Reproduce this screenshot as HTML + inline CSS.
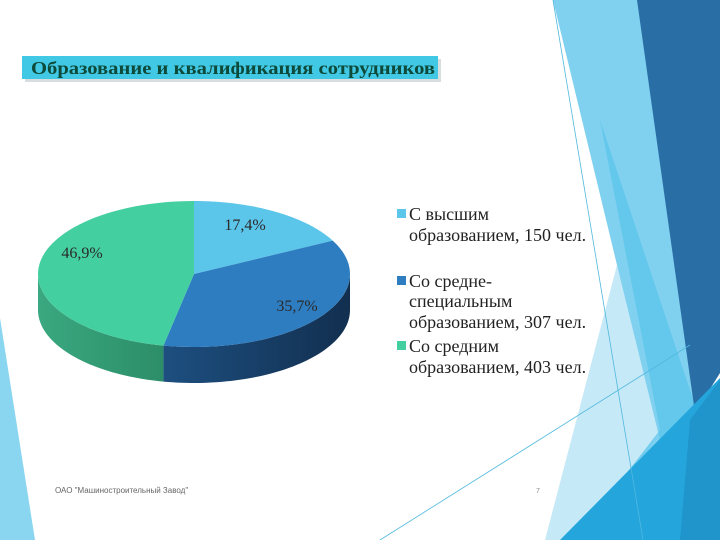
<!DOCTYPE html>
<html><head><meta charset="utf-8"><style>
html,body{margin:0;padding:0;background:#fff;}
svg{display:block;}
.lbl{font-family:"Liberation Serif",serif;font-size:16px;fill:#2a2a2a;}
.leg{font-family:"Liberation Serif",serif;font-size:18px;fill:#222;}
</style></head><body>
<svg width="720" height="540" viewBox="0 0 720 540">
<defs>
<linearGradient id="gSide" x1="0" x2="1"><stop offset="0" stop-color="#3aa880"/><stop offset="1" stop-color="#2c8e68"/></linearGradient>
<linearGradient id="bSide" x1="0" x2="1"><stop offset="0" stop-color="#1d4f80"/><stop offset="1" stop-color="#122f4f"/></linearGradient>
<linearGradient id="lSide" x1="0" x2="1"><stop offset="0" stop-color="#45a9cf"/><stop offset="1" stop-color="#2f87ad"/></linearGradient>
</defs>
<g>
<polygon points="0,318 35,540 0,540" fill="#8ad6f0"/>
<polygon points="617,265 665,420 600,540 545,540" fill="#c6e9f7"/>
<polygon points="553,0 640,0 700,420 660,440 617,265" fill="#80d0f0"/>
<polygon points="600,120 700,420 620,540 575,540 660,430" fill="#5cc6ec" opacity="0.8"/>
<polygon points="637,0 720,0 720,373 695,413" fill="#2a6ea6"/>
<polygon points="560,540 720,378 720,540" fill="#24a6dd"/>
<polygon points="690,420 720,380 720,540 680,540" fill="#1f95cc"/>
<line x1="553" y1="0" x2="643" y2="540" stroke="#4fb8de" stroke-width="0.8"/>
<line x1="380" y1="540" x2="690" y2="345" stroke="#4fb8de" stroke-width="0.8"/>
</g>
<g>
<rect x="25" y="59" width="416" height="23" fill="#d8dde0"/>
<rect x="22" y="56" width="416" height="23" fill="#40c8e4"/>
<text x="31" y="74" font-family="Liberation Serif,serif" font-size="17.5" font-weight="bold" fill="#0d4a3a" textLength="404" lengthAdjust="spacingAndGlyphs">Образование и квалификация сотрудников</text>
</g>
<g id="pie"></g>
<g>
<rect x="397" y="209" width="9" height="9" fill="#5bc5ea"/>
<text class="leg" x="409" y="220">С высшим</text>
<text class="leg" x="409" y="241">образованием, 150 чел.</text>
<rect x="397" y="276" width="9" height="9" fill="#2e7dc0"/>
<text class="leg" x="409" y="287">Со средне-</text>
<text class="leg" x="409" y="307">специальным</text>
<text class="leg" x="409" y="328">образованием, 307 чел.</text>
<rect x="397" y="341" width="9" height="9" fill="#44cfa0"/>
<text class="leg" x="409" y="352">Со средним</text>
<text class="leg" x="409" y="373">образованием, 403 чел.</text>
</g>
<text x="55" y="493" font-family="Liberation Sans,sans-serif" font-size="8" fill="#666">ОАО "Машиностроительный Завод"</text>
<text x="536" y="493" font-family="Liberation Sans,sans-serif" font-size="7" fill="#888">7</text>
</svg>
<script>
const categories = ["С высшим", "Со средне-специальным", "Со средним"];
const counts = [150, 307, 403];
const pctLabels = ["17,4%", "35,7%", "46,9%"];
const topColors = ["#5bc5ea", "#2e7dc0", "#44cfa0"];
const sideFills = ["url(#lSide)", "url(#bSide)", "url(#gSide)"];
const labelPos = [[245,230],[297,311],[82,258]];

const NS = "http://www.w3.org/2000/svg";
const cx = 194, cy = 274, rx = 156, ry = 73, depth = 36;
const g = document.getElementById('pie');
const total = counts.reduce((a,b)=>a+b,0);
function pt(a, dy){ return [cx + rx*Math.sin(a), cy - ry*Math.cos(a) + (dy||0)]; }
function arc(a0, a1, dy){ const n=60, out=[]; for(let i=0;i<=n;i++){ const p=pt(a0+(a1-a0)*i/n, dy); out.push(p[0].toFixed(2)+','+p[1].toFixed(2)); } return out; }
let acc = 0;
const angles = counts.map(v=>{ const a0=acc/total*2*Math.PI; acc+=v; return [a0, acc/total*2*Math.PI]; });
angles.forEach(([a0,a1],i)=>{
  const s = Math.max(a0, Math.PI/2), e = Math.min(a1, 3*Math.PI/2);
  if (e <= s) return;
  const top = arc(s,e,0), bot = arc(e,s,depth);
  const p = document.createElementNS(NS,'polygon');
  p.setAttribute('points', top.concat(bot).join(' '));
  p.setAttribute('fill', sideFills[i]);
  
  
  g.appendChild(p);
});
angles.forEach(([a0,a1],i)=>{
  const pts = [cx+','+cy].concat(arc(a0,a1,0));
  const p = document.createElementNS(NS,'polygon');
  p.setAttribute('points', pts.join(' '));
  p.setAttribute('fill', topColors[i]);
  
  
  g.appendChild(p);
});
pctLabels.forEach((t,i)=>{
  const tx = document.createElementNS(NS,'text');
  tx.setAttribute('x', labelPos[i][0]);
  tx.setAttribute('y', labelPos[i][1]);
  tx.setAttribute('class','lbl');
  tx.setAttribute('text-anchor','middle');
  
  
  tx.textContent = t;
  g.appendChild(tx);
});
</script>
</body></html>
